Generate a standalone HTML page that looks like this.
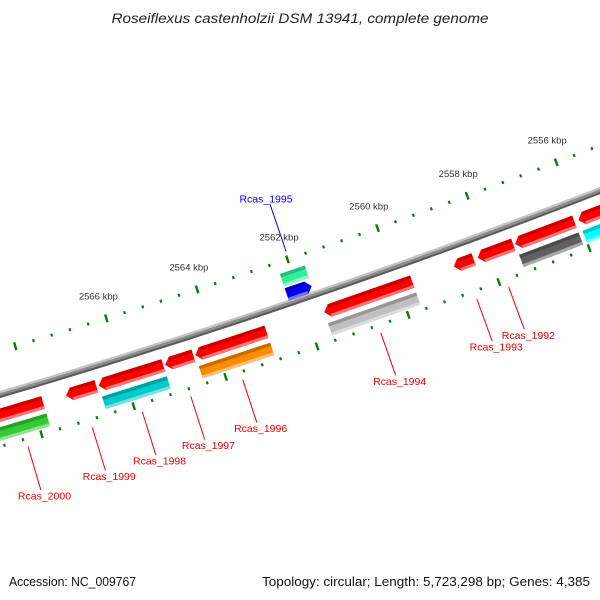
<!DOCTYPE html>
<html><head><meta charset="utf-8"><style>
html,body{margin:0;padding:0;background:#fff;}
svg{display:block;}
</style></head><body>
<svg id="chart" width="600" height="600" viewBox="0 0 600 600" xmlns="http://www.w3.org/2000/svg">
<rect x="0" y="0" width="600" height="600" fill="#fff"/>
<text x="300" y="23" text-anchor="middle" font-family="Liberation Sans, sans-serif" font-style="italic" font-size="13.5" fill="#222" textLength="377" lengthAdjust="spacingAndGlyphs">Roseiflexus castenholzii DSM 13941, complete genome</text>
<g id="ticks"></g>
<g id="backbone"></g>
<g id="features"></g>
<g id="labels"></g>
<text x="9" y="586" font-family="Liberation Sans, sans-serif" font-size="12.5" fill="#111" textLength="127" lengthAdjust="spacingAndGlyphs">Accession: NC_009767</text>
<text x="590" y="586" text-anchor="end" font-family="Liberation Sans, sans-serif" font-size="12.5" fill="#111" textLength="328" lengthAdjust="spacingAndGlyphs">Topology: circular; Length: 5,723,298 bp; Genes: 4,385</text>
</svg>
<script>
const geneNames = ['Rcas_2000','Rcas_1999','Rcas_1998','Rcas_1997','Rcas_1996','Rcas_1995','Rcas_1994','Rcas_1993','Rcas_1992','Rcas_1991','Rcas_1990'];
const geneStartKbp = [2567.78,2566.62,2565.16,2564.50,2562.90,2561.70,2559.69,2558.33,2557.45,2556.09,2554.30];
const geneEndKbp   = [2568.90,2567.28,2566.57,2565.12,2564.46,2562.25,2561.63,2558.77,2558.24,2557.41,2556.00];
const geneStrand   = [-1,-1,-1,-1,-1,1,-1,-1,-1,-1,-1];
const geneColor    = ['#ff0000','#ff0000','#ff0000','#ff0000','#ff0000','#0000ee','#ff0000','#ff0000','#ff0000','#ff0000','#ff0000'];
const categoryColor= ['#33cc33',null,'#00cccc',null,'#ff8c00','#33ee99','#c0c0c0',null,null,'#606060','#00ffff'];
const geneLabeled  = [true,true,true,true,true,true,true,true,true,false,false];
const majorTickKbp = [2554,2556,2558,2560,2562,2564,2566,2568,2570];
const tickLabels   = ['2556 kbp','2558 kbp','2560 kbp','2562 kbp','2564 kbp','2566 kbp'];
const tickLabelKbp = [2556,2558,2560,2562,2564,2566];

const NS='http://www.w3.org/2000/svg';
const CX=-2137, CY=-6876, R=7578;
const TH0=Math.atan2(329-CY,210-CX);
const PXK=47.9;
function pos(k,d){const t=TH0+(k-2564)*PXK/R;const r=R+d;return [CX+r*Math.cos(t),CY+r*Math.sin(t)];}
function mk(tag,attrs,parent){const e=document.createElementNS(NS,tag);for(const k in attrs)e.setAttribute(k,attrs[k]);parent.appendChild(e);return e;}
function pts(a){return a.map(p=>p[0].toFixed(2)+','+p[1].toFixed(2)).join(' ');}
function shade(hex,f){let n=parseInt(hex.slice(1),16);let r=n>>16,g=(n>>8)&255,b=n&255;
 const m=c=>f<1?Math.round(c*f):Math.round(c+(255-c)*(f-1));return 'rgb('+m(r)+','+m(g)+','+m(b)+')';}
function band(k1,k2,d0,d1,tipSide,tip){
 const out=[];const hi=k2,lo=k1;const mid=(d0+d1)/2;
 if(tipSide===1){
   out.push(pos(lo,d0),pos(hi-tip,d0),pos(hi,mid),pos(hi-tip,d1),pos(lo,d1));
 } else if(tipSide===-1){
   out.push(pos(hi,d0),pos(lo+tip,d0),pos(lo,mid),pos(lo+tip,d1),pos(hi,d1));
 } else {out.push(pos(lo,d0),pos(hi,d0),pos(hi,d1),pos(lo,d1));}
 return out;
}

// ticks
const tg=document.getElementById('ticks');
const rows=[-42,50];
rows.forEach((d)=>{
 for(let n=0;n<=48;n++){
   const kk=Math.round((2552+n*0.4)*10)/10;
   const isMajor=majorTickKbp.some(m=>Math.abs(m-kk)<0.01);
   const len=isMajor?8:3;
   const a=pos(kk,d-len/2),b=pos(kk,d+len/2);
   const l=mk('line',{x1:a[0],y1:a[1],x2:b[0],y2:b[1],stroke:'#0a7a0a','stroke-width':isMajor?2.4:2.2},tg);
   
   
 }
});
tickLabelKbp.forEach((k,i)=>{
 const p=pos(k,-62);
 const t=mk('text',{x:p[0]-2,y:p[1],'text-anchor':'middle','font-family':'Liberation Sans, sans-serif','font-size':'9.5',fill:'#333'},tg);
 t.textContent=tickLabels[i];
 
 
});

// backbone
const bg=document.getElementById('backbone');
function arcPts(d){const a=[];for(let k=2572;k>=2551;k-=0.5)a.push(pos(k,d));return pts(a);}
[[-2.4,'#c4c4c4',2],[0,'#8c8c8c',2.6],[2.4,'#5a5a5a',2.2]].forEach(s=>{
 const l=mk('polyline',{points:arcPts(s[0]),fill:'none',stroke:s[1],'stroke-width':s[2]},bg);
 
 
});

// features
const fg=document.getElementById('features');
const lg=document.getElementById('labels');
const H=13, TIP=0.12;
function drawBox(k1,k2,dc,col,tipSide,name){
 const d0=dc-H/2,d1=dc+H/2;
 const g=mk('g',{},fg);
 
 
 mk('polygon',{points:pts(band(k1,k2,d0,d1,tipSide,TIP)),fill:col},g);
 const s1=tipSide===-1?k1+TIP:k1, s2=tipSide===1?k2-TIP:k2;
 mk('polygon',{points:pts(band(s1,s2,d0,d0+3.5,0,0)),fill:shade(col,0.78)},g);
 mk('polygon',{points:pts(band(s1,s2,d1-3,d1,0,0)),fill:shade(col,1.45)},g);
}
geneNames.forEach((n,i)=>{
 const s=geneStrand[i];
 const dGene=s<0?20:-9, dCat=s<0?38:-24;
 drawBox(geneStartKbp[i],geneEndKbp[i],dGene,geneColor[i],s<0?1:-1,'gene-'+n.toLowerCase().replace('_','-'));
 if(categoryColor[i]) drawBox(geneStartKbp[i],geneEndKbp[i],dCat,categoryColor[i],0,'category-'+n.toLowerCase().replace('_','-'));
 if(geneLabeled[i]){
   const mid=(geneStartKbp[i]+geneEndKbp[i])/2;
   const col=s<0?'#ee0000':'#0000ee';
   const a=s<0?pos(mid,58):pos(mid,-50), b=s<0?pos(mid,103):pos(mid,-100), c=s<0?pos(mid,109):pos(mid,-106);
   const l=mk('line',{x1:a[0],y1:a[1],x2:b[0],y2:b[1],stroke:col,'stroke-width':1},lg);
   
   
   const t=mk('text',{x:c[0]+(s<0?2:-2),y:c[1]+4,'text-anchor':'middle','font-family':'Liberation Sans, sans-serif','font-size':'10.5',fill:col},lg);
   t.textContent=n;
   
   
 }
});
</script>
</body></html>
